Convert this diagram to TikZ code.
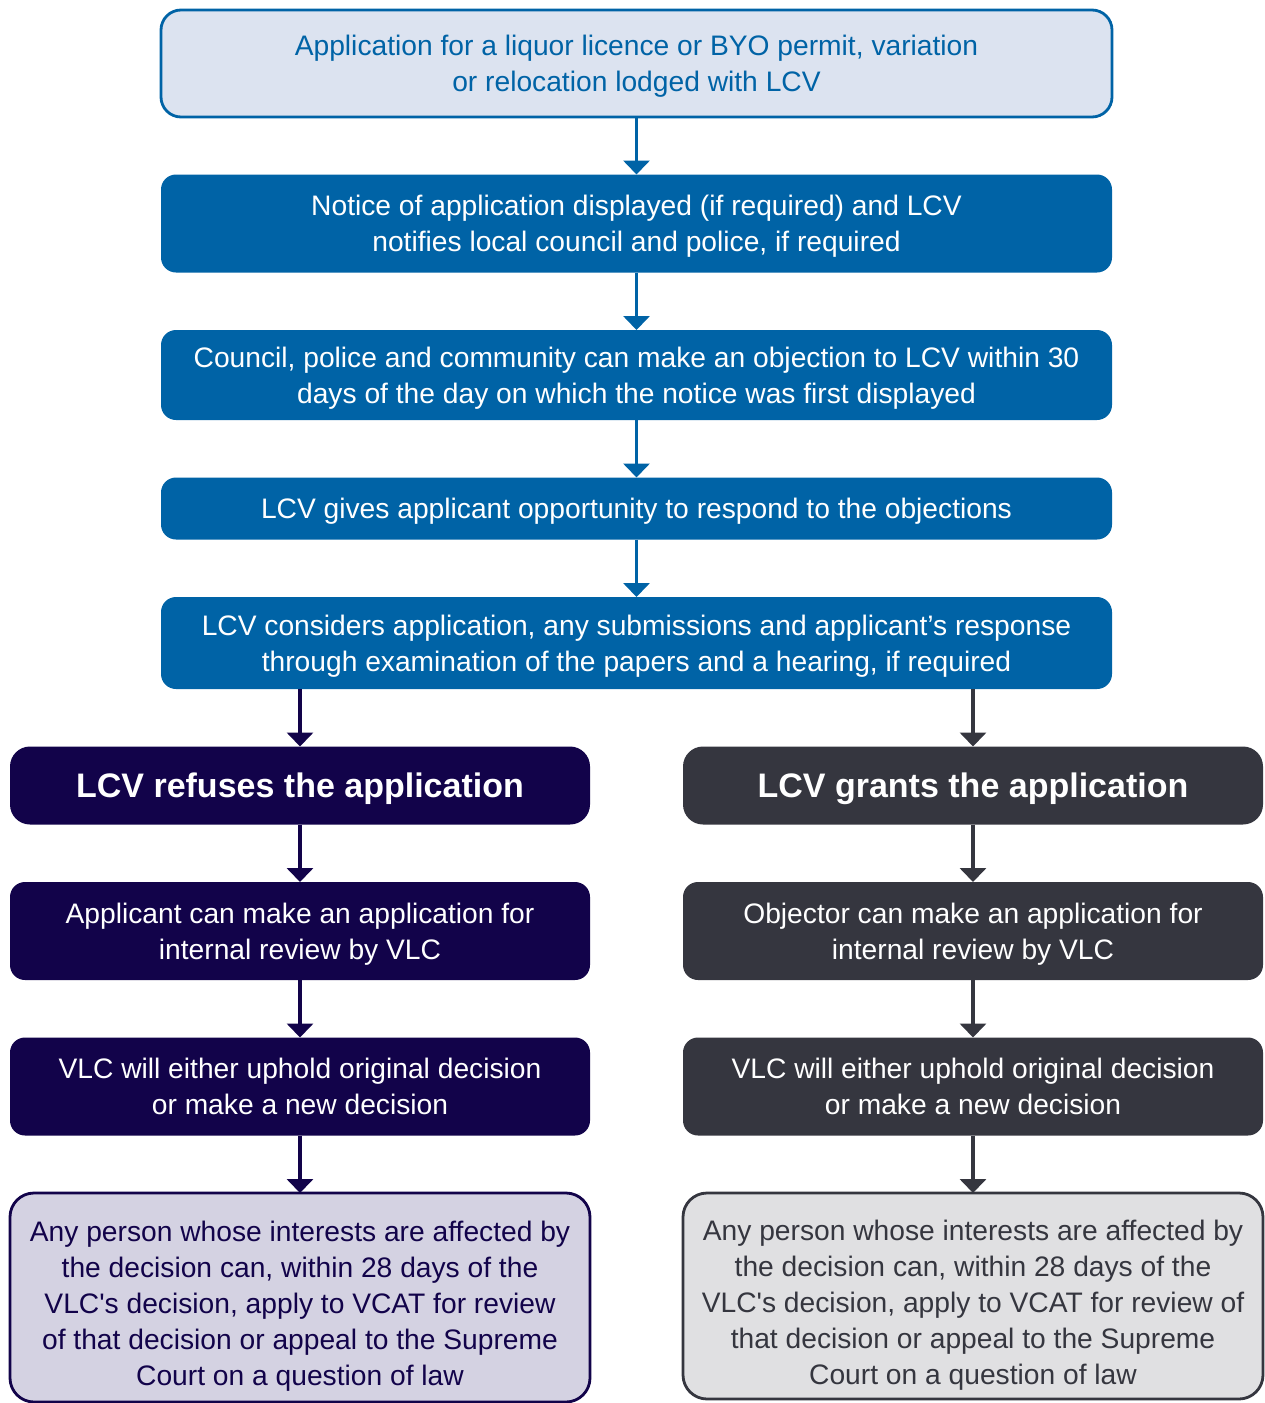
\documentclass[tikz,border=0pt]{standalone}
\usepackage{fontspec}
\setmainfont{Liberation Sans}
\usepackage{xcolor}
\usetikzlibrary{arrows.meta,positioning}
\definecolor{lcvblue}{HTML}{0063A6}
\definecolor{paleblue}{HTML}{DCE3F0}
\definecolor{navy}{HTML}{12034A}
\definecolor{slate}{HTML}{35363F}
\definecolor{lavender}{HTML}{D4D2E2}
\definecolor{paper}{HTML}{E0E0E2}
\newcommand{\tallstrut}{\rule{0pt}{16pt}}

\begin{document}
\begin{tikzpicture}[
  x=0.5pt, y=-0.5pt,
  node distance=28.75pt,
  base/.style={rounded corners=7.5pt, align=center, inner sep=0pt, outer sep=0pt, text depth=0pt, font=\fontsize{14.1}{18}\selectfont},
  lodge/.style={base, rounded corners=10pt, draw=lcvblue, line width=1.4pt, fill=paleblue, text=lcvblue, minimum width=475.5pt},
  stage/.style={base, fill=lcvblue, text=white, minimum width=475.5pt},
  head/.style={base, rounded corners=10pt, text=white, minimum width=290pt, minimum height=39pt, font=\fontsize{17}{20}\selectfont\bfseries},
  side/.style={base, text=white, minimum width=290pt, minimum height=49pt},
  appeal/.style={base, rounded corners=12pt, line width=1.4pt, minimum width=290pt},
  flow/.style={-{Triangle[width=13pt,length=7pt]}, line width=1.75pt, draw=#1}
]
\useasboundingbox (0,0) rectangle (1264,1403);

% main column
\node[lodge, minimum height=53.5pt] (lodged) at (636.5,63.5) {Application for a liquor licence or BYO permit, variation\\or relocation lodged with LCV};
\node[stage, minimum height=49pt, below=of lodged] (notice) {Notice of application displayed (if required) and LCV\\notifies local council and police, if required};
\node[stage, minimum height=45pt, below=of notice] (objection) {Council, police and community can make an objection to LCV within 30\\days of the day on which the notice was first displayed};
\node[stage, minimum height=31pt, below=of objection] (respond) {LCV gives applicant opportunity to respond to the objections};
\node[stage, minimum height=46pt, below=of respond] (consider) {LCV considers application, any submissions and applicant’s response\\through examination of the papers and a hearing, if required};

% refused branch
\node[head, fill=navy, below=of consider, xshift=-168.25pt] (refused) {LCV refuses the application};
\node[side, fill=navy, below=of refused] (applicant) {Applicant can make an application for\\internal review by VLC};
\node[side, fill=navy, below=of applicant] (upholdL) {VLC will either uphold original decision\\or make a new decision};
\node[appeal, draw=navy, fill=lavender, text=navy, minimum height=104.5pt, below=of upholdL] (vcatL) {\tallstrut Any person whose interests are affected by\\the decision can, within 28 days of the\\VLC\textquotesingle s decision, apply to VCAT for review\\of that decision or appeal to the Supreme\\Court on a question of law};

% granted branch
\node[head, fill=slate, below=of consider, xshift=168.25pt] (granted) {LCV grants the application};
\node[side, fill=slate, below=of granted] (objector) {Objector can make an application for\\internal review by VLC};
\node[side, fill=slate, below=of objector] (upholdR) {VLC will either uphold original decision\\or make a new decision};
\node[appeal, draw=slate, fill=paper, text=slate, minimum height=103pt, below=of upholdR] (vcatR) {\tallstrut Any person whose interests are affected by\\the decision can, within 28 days of the\\VLC\textquotesingle s decision, apply to VCAT for review of\\that decision or appeal to the Supreme\\Court on a question of law};

\draw[flow=lcvblue] (lodged) -- (notice);
\draw[flow=lcvblue] (notice) -- (objection);
\draw[flow=lcvblue] (objection) -- (respond);
\draw[flow=lcvblue] (respond) -- (consider);
\draw[flow=navy] (consider.south -| refused) -- (refused);
\draw[flow=slate] (consider.south -| granted) -- (granted);
\draw[flow=navy] (refused) -- (applicant);
\draw[flow=navy] (applicant) -- (upholdL);
\draw[flow=navy] (upholdL) -- (vcatL);
\draw[flow=slate] (granted) -- (objector);
\draw[flow=slate] (objector) -- (upholdR);
\draw[flow=slate] (upholdR) -- (vcatR);
\end{tikzpicture}
\end{document}
